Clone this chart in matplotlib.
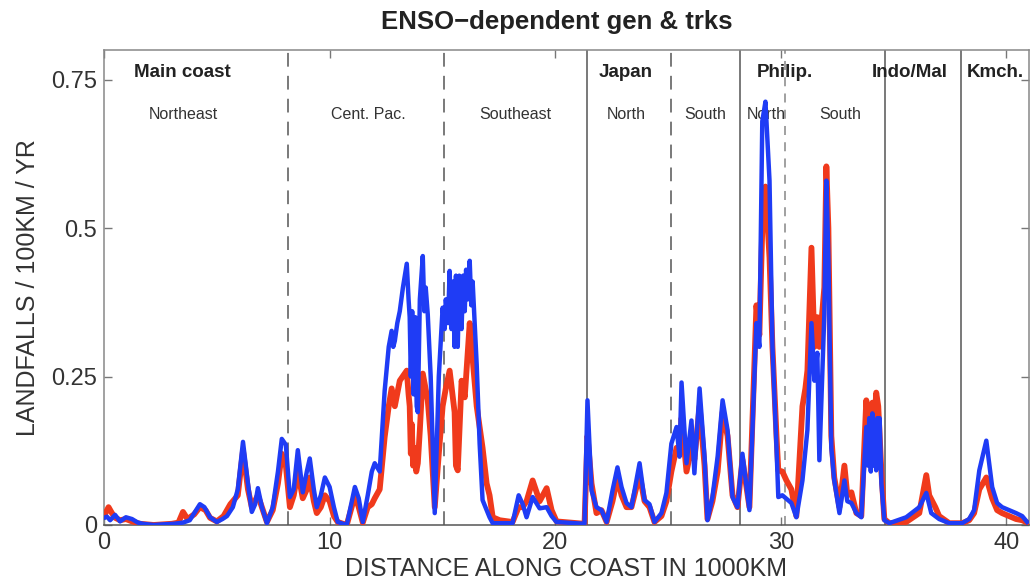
import matplotlib.pyplot as plt
import numpy as np

plt.rcParams['font.family'] = ['Liberation Sans', 'DejaVu Sans']

# blue series (distance in 1000 km, landfalls / 100 km / yr)
blue_x = [0.0, 0.13, 0.27, 0.49, 0.71, 0.97, 1.24, 1.5, 1.73, 2.2, 2.6, 3.1, 3.5, 3.8, 4.0, 4.25, 4.45,
          4.7, 5.0, 5.25, 5.45, 5.71, 5.93, 6.16, 6.38, 6.55, 6.7, 6.82, 7.0, 7.22, 7.48, 7.71, 7.88,
          8.06, 8.24, 8.41, 8.59, 8.81, 8.99, 9.12, 9.3, 9.43, 9.61, 9.79, 10.0, 10.19, 10.36, 10.76,
          11.12, 11.29, 11.47, 11.69, 11.87, 12.0, 12.22, 12.44, 12.62, 12.75, 12.82, 12.89, 13.0,
          13.11, 13.25, 13.42, 13.5, 13.55, 13.6, 13.66, 13.72, 13.8, 13.86, 13.91, 14.0, 14.13,
          14.2, 14.26, 14.35, 14.48, 14.66, 14.84, 15.01, 15.1, 15.15, 15.25, 15.32, 15.4, 15.46,
          15.54, 15.6, 15.68, 15.75, 15.85, 15.92, 15.99, 16.05, 16.12, 16.21, 16.28, 16.34, 16.52,
          16.65, 16.78, 17.09, 17.23, 18.11, 18.38, 18.56, 18.73, 19.0, 19.31, 19.62, 19.84, 20.06,
          21.3, 21.43, 21.61, 21.83, 22.05, 22.28, 22.54, 22.76, 22.94, 23.16, 23.38, 23.74, 23.96,
          24.18, 24.4, 24.71, 24.93, 25.15, 25.38, 25.51, 25.6, 25.82, 26.04, 26.17, 26.4, 26.62,
          26.75, 26.97, 27.2, 27.42, 27.64, 27.86, 28.08, 28.3, 28.61, 28.92, 29.05, 29.18, 29.32,
          29.5, 29.63, 29.81, 29.89, 30.07, 30.47, 30.69, 30.96, 31.18, 31.36, 31.49, 31.62, 31.71,
          31.93, 32.02, 32.11, 32.24, 32.37, 32.6, 32.82, 32.95, 33.13, 33.35, 33.57, 33.79, 33.86,
          33.92, 33.99, 34.06, 34.12, 34.18, 34.23, 34.28, 34.32, 34.38, 34.46, 34.59, 34.81, 35.56,
          36.14, 36.45, 36.67, 37.02, 37.47, 38.04, 38.35, 38.57, 38.8, 39.11, 39.37, 39.59, 39.81,
          40.12, 40.43, 40.7, 40.92]
blue_y = [0.012, 0.014, 0.008, 0.017, 0.006, 0.013, 0.01, 0.004, 0.002, 0.0, 0.001, 0.002, 0.004, 0.008,
          0.02, 0.035, 0.03, 0.013, 0.005, 0.01, 0.015, 0.03, 0.06, 0.14, 0.07, 0.022, 0.035, 0.062,
          0.03, 0.003, 0.03, 0.09, 0.145, 0.135, 0.047, 0.06, 0.126, 0.055, 0.09, 0.112, 0.06, 0.03,
          0.05, 0.08, 0.064, 0.03, 0.005, 0.0, 0.064, 0.045, 0.005, 0.05, 0.09, 0.104, 0.09, 0.226,
          0.3, 0.327, 0.3, 0.31, 0.34, 0.36, 0.4, 0.44, 0.38, 0.35, 0.25, 0.36, 0.22, 0.35, 0.2,
          0.19, 0.38, 0.453, 0.36, 0.4, 0.355, 0.25, 0.02, 0.25, 0.366, 0.33, 0.38, 0.34, 0.428,
          0.33, 0.41, 0.3, 0.42, 0.3, 0.42, 0.33, 0.42, 0.36, 0.43, 0.38, 0.445, 0.37, 0.41, 0.27,
          0.137, 0.042, 0.013, 0.003, 0.003, 0.05, 0.035, 0.013, 0.047, 0.028, 0.03, 0.015, 0.005,
          0.002, 0.21, 0.058, 0.03, 0.025, 0.005, 0.058, 0.097, 0.064, 0.037, 0.03, 0.104, 0.042,
          0.035, 0.005, 0.02, 0.054, 0.137, 0.165, 0.115, 0.24, 0.104, 0.176, 0.087, 0.23, 0.115,
          0.008, 0.047, 0.115, 0.21, 0.16, 0.047, 0.03, 0.12, 0.025, 0.34, 0.3, 0.68, 0.713, 0.58,
          0.3, 0.13, 0.047, 0.05, 0.037, 0.013, 0.075, 0.16, 0.34, 0.243, 0.29, 0.109, 0.355, 0.58,
          0.45, 0.13, 0.075, 0.02, 0.075, 0.04, 0.037, 0.02, 0.013, 0.165, 0.1, 0.18, 0.09, 0.188,
          0.1, 0.17, 0.092, 0.18, 0.12, 0.18, 0.07, 0.008, 0.003, 0.013, 0.03, 0.054, 0.02, 0.01,
          0.003, 0.003, 0.01, 0.025, 0.092, 0.142, 0.064, 0.037, 0.03, 0.025, 0.02, 0.015, 0.005]

# red series
red_x = [0.0, 0.2, 0.35, 0.5, 0.71, 0.97, 1.24, 1.6, 2.2, 3.0, 3.3, 3.5, 3.7, 4.0, 4.25, 4.5, 4.7, 5.0,
         5.3, 5.6, 5.93, 6.16, 6.38, 6.55, 6.82, 7.0, 7.22, 7.48, 7.71, 7.88, 8.06, 8.24, 8.41, 8.59,
         8.81, 8.99, 9.12, 9.3, 9.43, 9.61, 9.79, 10.0, 10.19, 10.36, 10.76, 11.12, 11.29, 11.47, 11.69,
         11.87, 12.0, 12.22, 12.44, 12.62, 12.75, 12.89, 13.11, 13.42, 13.5, 13.55, 13.6, 13.64,
         13.7, 13.77, 13.84, 13.91, 14.0, 14.13, 14.35, 14.48, 14.66, 14.84, 15.01, 15.15, 15.32,
         15.54, 15.6, 15.68, 15.85, 15.99, 16.21, 16.34, 16.52, 16.78, 16.96, 17.09, 17.23, 17.54,
         18.11, 18.38, 18.56, 18.73, 19.0, 19.31, 19.62, 19.84, 20.06, 21.3, 21.43, 21.61, 21.83,
         22.05, 22.28, 22.54, 22.76, 22.94, 23.16, 23.38, 23.74, 23.96, 24.18, 24.4, 24.71, 24.93,
         25.15, 25.38, 25.51, 25.6, 25.82, 26.04, 26.17, 26.4, 26.62, 26.75, 26.97, 27.2, 27.42,
         27.64, 27.86, 28.08, 28.3, 28.61, 28.92, 29.05, 29.18, 29.32, 29.5, 29.63, 29.81, 29.89,
         30.07, 30.25, 30.47, 30.69, 30.96, 31.09, 31.18, 31.36, 31.49, 31.62, 31.71, 31.93, 32.02,
         32.11, 32.24, 32.37, 32.6, 32.82, 32.95, 33.13, 33.35, 33.57, 33.79, 33.92, 34.06, 34.15,
         34.23, 34.32, 34.46, 34.59, 34.81, 35.56, 36.14, 36.45, 36.58, 36.85, 37.02, 37.47, 38.04,
         38.35, 38.57, 38.8, 39.11, 39.37, 39.59, 39.81, 40.12, 40.43, 40.7, 40.92]
red_y = [0.015, 0.03, 0.02, 0.012, 0.008, 0.01, 0.006, 0.002, 0.0, 0.002, 0.004, 0.022, 0.01, 0.018,
         0.03, 0.025, 0.012, 0.006, 0.015, 0.035, 0.05, 0.125, 0.06, 0.03, 0.05, 0.03, 0.005, 0.025,
         0.07, 0.12, 0.1, 0.03, 0.05, 0.09, 0.045, 0.06, 0.08, 0.04, 0.02, 0.03, 0.05, 0.04, 0.015,
         0.005, 0.0, 0.05, 0.03, 0.004, 0.03, 0.035, 0.045, 0.06, 0.148, 0.2, 0.23, 0.2, 0.243, 0.26,
         0.22, 0.2, 0.12, 0.17, 0.1, 0.13, 0.09, 0.104, 0.16, 0.255, 0.21, 0.15, 0.03, 0.12, 0.2,
         0.23, 0.26, 0.19, 0.1, 0.092, 0.243, 0.215, 0.34, 0.28, 0.2, 0.13, 0.07, 0.05, 0.013, 0.008,
         0.005, 0.03, 0.03, 0.04, 0.075, 0.04, 0.062, 0.025, 0.006, 0.002, 0.15, 0.07, 0.02, 0.025,
         0.005, 0.04, 0.08, 0.05, 0.03, 0.03, 0.085, 0.04, 0.03, 0.005, 0.015, 0.04, 0.09, 0.13, 0.12,
         0.18, 0.09, 0.13, 0.11, 0.2, 0.1, 0.01, 0.04, 0.09, 0.19, 0.15, 0.05, 0.03, 0.11, 0.03, 0.37,
         0.32, 0.5, 0.57, 0.45, 0.3, 0.15, 0.092, 0.09, 0.075, 0.06, 0.015, 0.2, 0.23, 0.26, 0.467,
         0.3, 0.35, 0.3, 0.4, 0.604, 0.5, 0.15, 0.08, 0.03, 0.1, 0.05, 0.055, 0.02, 0.015, 0.21, 0.15,
         0.206, 0.17, 0.223, 0.2, 0.09, 0.01, 0.003, 0.005, 0.02, 0.084, 0.05, 0.03, 0.015, 0.003,
         0.003, 0.008, 0.02, 0.06, 0.08, 0.045, 0.025, 0.02, 0.015, 0.01, 0.008, 0.004]

# region boundaries
solid_bounds = [21.4, 28.2, 34.6, 38.0]
dashed_bounds = [8.15, 15.05, 25.15]
light_dashed_bounds = [30.2]

# region names
regions = ['Main coast', 'Japan', 'Philip.', 'Indo/Mal', 'Kmch.']
region_x = [3.48, 23.12, 30.2, 35.7, 39.5]
subregions = ['Northeast', 'Cent. Pac.', 'Southeast', 'North', 'South', 'North', 'South']
subregion_x = [3.5, 11.74, 18.25, 23.16, 26.66, 29.36, 32.64]

fig = plt.figure(figsize=(10.31, 5.85), dpi=100)
ax = fig.add_axes([0.1009, 0.1026, 0.8971, 0.8119])

for xb in solid_bounds:
    ax.axvline(xb, color='#555555', lw=1.1, zorder=1)
for xb in dashed_bounds:
    ax.axvline(xb, color='#555555', lw=1.1, ls=(0, (9, 6)), zorder=1)
for xb in light_dashed_bounds:
    ax.axvline(xb, color='#999999', lw=1.3, ls=(0, (5, 4)), zorder=1)

for name, xr in zip(regions, region_x):
    ax.text(xr, 0.762, name, ha='center', va='center', fontsize=13.5,
            fontweight='bold', color='#222222', zorder=2)
for name, xr in zip(subregions, subregion_x):
    ax.text(xr, 0.691, name, ha='center', va='center', fontsize=11.5,
            color='#333333', zorder=2)

ax.plot(red_x, red_y, color='#f03a1c', lw=4.2, zorder=3)
ax.plot(blue_x, blue_y, color='#1f3cf5', lw=3.2, zorder=4)

ax.set_xlim(0, 41)
ax.set_ylim(0, 0.8)
ax.set_xticks([0, 10, 20, 30, 40])
ax.set_xticklabels(['0', '10', '20', '30', '40'])
ax.set_yticks([0, 0.25, 0.5, 0.75])
ax.set_yticklabels(['0', '0.25', '0.5', '0.75'])
ax.tick_params(direction='in', top=True, right=True, length=6, width=1,
               color='#777777', labelsize=17, labelcolor='#333333', pad=5)
for s in ax.spines.values():
    s.set_color('#888888')
    s.set_linewidth(1.1)
ax.spines['bottom'].set_color('#555555')

ax.set_xlabel('DISTANCE ALONG COAST IN 1000KM', fontsize=18, color='#333333', labelpad=2)
ax.set_ylabel('LANDFALLS / 100KM / YR', fontsize=18, color='#333333', labelpad=8)
fig.text(557 / 1031, 1 - 22 / 585, 'ENSO\u2212dependent gen & trks', ha='center', va='center',
         fontsize=18.5, fontweight='bold', color='#222222')

fig.savefig('out.png', dpi=100)
